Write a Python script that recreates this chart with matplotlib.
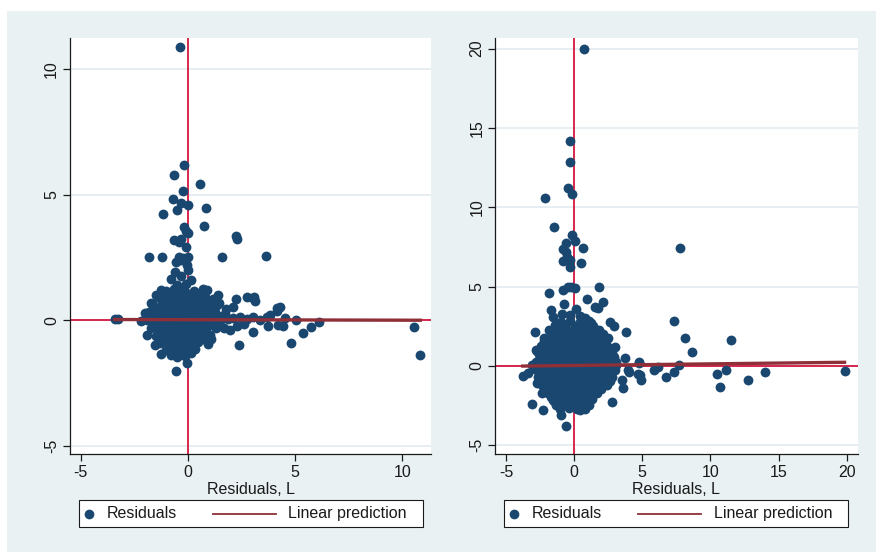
import matplotlib.pyplot as plt
from matplotlib.patches import Rectangle
from matplotlib.lines import Line2D

plt.rcParams['font.family'] = ['Liberation Sans', 'DejaVu Sans']
plt.rcParams['axes.unicode_minus'] = False

# residual pairs (x, y), left graph: sparse points around the cloud
left_outer = [
    (-0.37, 10.88), (-0.17, 6.2), (-0.65, 5.8), (0.56, 5.43), (-0.22, 5.13),
    (-0.69, 4.83), (-0.33, 4.66), (-0.01, 4.57), (0.83, 4.47), (-0.5, 4.37),
    (-1.14, 4.22), (-0.17, 3.72), (0.76, 3.77), (-0.09, 3.56), (-0.01, 3.48),
    (2.27, 3.35), (2.3, 3.24), (-0.65, 3.21), (-0.33, 3.24), (-0.4, 3.1),
    (-0.09, 2.92), (-1.81, 2.5), (-1.2, 2.5), (1.59, 2.5), (3.64, 2.54),
    (-0.42, 2.5), (-0.22, 2.46), (0.0, 2.52), (-0.3, 2.38), (-0.53, 2.32),
    (0.01, 1.99), (-0.61, 1.92), (-0.76, 1.66), (0.17, 1.62), (-0.05, 2.2),
    (-0.3, 1.75), (-0.1, 1.45), (-0.5, 1.42), (-1.23, 1.22), (0.71, 1.26),
    (1.42, 1.0), (2.27, 0.86), (2.74, 0.93), (3.08, 0.93), (3.02, 0.9),
    (3.13, 0.77), (2.12, 0.53), (1.8, 0.45), (2.43, 0.13), (2.1, 0.1),
    (2.75, 0.05), (3.05, 0.13), (3.36, 0.0), (3.68, 0.13), (3.83, 0.2),
    (4.14, 0.36), (4.14, 0.47), (4.3, 0.53), (4.53, 0.07), (5.05, 0.0),
    (3.75, -0.24), (4.22, -0.2), (4.45, -0.24), (2.6, -0.15), (2.3, -0.25),
    (3.02, -0.47), (1.96, -0.4), (2.4, -0.97), (0.95, -0.93), (0.56, -0.73),
    (6.14, -0.09), (5.73, -0.27), (5.39, -0.53), (4.81, -0.9), (10.57, -0.27),
    (10.84, -1.38), (-3.41, 0.03), (-3.26, 0.03), (-2.16, -0.03), (-1.9, -0.6),
    (-1.54, -1.0), (-1.23, -1.33), (-0.76, -1.39), (-0.03, -1.69), (-0.53, -2.03),
    (1.6, 0.15), (1.7, -0.3), (1.45, 0.7), (1.1, -0.75), (-2.0, 0.3),
    (-1.7, 0.7), (-1.5, 1.0),
]

# left graph: dense cloud near the origin
left_core = [
    (-1.02, 1.18), (-0.62, 1.25), (-0.18, 1.21), (0.28, 1.15), (0.88, 1.19),
    (-1.38, 0.92), (-1.02, 0.88), (-0.71, 0.95), (-0.33, 0.86), (0.03, 0.93),
    (0.42, 0.88), (0.79, 0.91), (1.18, 0.84),
    (-1.62, 0.62), (-1.21, 0.57), (-0.88, 0.64), (-0.51, 0.58), (-0.14, 0.63),
    (0.22, 0.55), (0.57, 0.61), (0.98, 0.57), (1.38, 0.62),
    (-1.79, 0.31), (-1.41, 0.27), (-1.04, 0.33), (-0.69, 0.26), (-0.31, 0.32),
    (0.06, 0.28), (0.44, 0.33), (0.86, 0.27), (1.29, 0.31), (1.72, 0.24),
    (-1.91, 0.02), (-1.52, -0.04), (-1.12, 0.03), (-0.74, -0.02), (-0.38, 0.04),
    (-0.04, -0.03), (0.31, 0.02), (0.69, -0.04), (1.08, 0.03), (1.48, -0.02),
    (1.88, 0.04),
    (-1.72, -0.31), (-1.33, -0.27), (-0.96, -0.33), (-0.58, -0.28), (-0.23, -0.32),
    (0.12, -0.26), (0.51, -0.31), (0.91, -0.29), (1.32, -0.33),
    (-1.49, -0.61), (-1.14, -0.57), (-0.79, -0.63), (-0.43, -0.58), (-0.09, -0.62),
    (0.26, -0.56), (0.62, -0.61), (1.02, -0.59),
    (-1.28, -0.91), (-0.93, -0.87), (-0.58, -0.93), (-0.24, -0.88), (0.11, -0.92),
    (0.47, -0.86),
    (-1.01, -1.18), (-0.62, -1.22), (-0.28, -1.17), (0.04, -1.21), (0.36, -1.14),
    (-0.49, -1.45), (-0.12, -1.41),
    (-0.82, 1.05), (-0.41, 1.07), (0.05, 1.03), (0.52, 1.06),
    (-1.18, 0.75), (-0.86, 0.77), (-0.52, 0.74), (-0.16, 0.76), (0.22, 0.73),
    (0.6, 0.77), (1.0, 0.74),
    (-1.41, 0.45), (-1.05, 0.47), (-0.69, 0.44), (-0.33, 0.46), (0.04, 0.43),
    (0.4, 0.47), (0.78, 0.44), (1.15, 0.46),
    (-1.6, 0.15), (-1.25, 0.17), (-0.9, 0.14), (-0.55, 0.16), (-0.2, 0.13),
    (0.15, 0.17), (0.5, 0.14), (0.9, 0.16), (1.5, 0.13),
    (-1.55, -0.15), (-1.15, -0.13), (-0.78, -0.16), (-0.42, -0.14), (-0.07, -0.17),
    (0.3, -0.13), (0.7, -0.16), (1.12, -0.14),
    (-1.32, -0.45), (-0.97, -0.43), (-0.62, -0.46), (-0.26, -0.44), (0.08, -0.47),
    (0.43, -0.43), (0.81, -0.46),
    (-1.1, -0.75), (-0.75, -0.73), (-0.41, -0.76), (-0.06, -0.74), (0.29, -0.77),
    (0.7, -0.73),
    (-0.82, -1.05), (-0.45, -1.03), (-0.1, -1.06), (0.2, -1.04),
    (-0.8, -1.3), (-0.3, -1.32), (0.15, -1.29),
]

# right graph: sparse points
right_outer = [
    (0.73, 20.0), (-0.34, 14.17), (-0.34, 12.87), (-0.46, 11.23), (-0.17, 10.82),
    (-2.16, 10.57), (-1.46, 8.78), (-0.17, 8.25), (0.07, 7.9), (-0.61, 7.73),
    (-0.85, 7.37), (0.66, 7.43), (7.79, 7.42), (-0.61, 7.16), (-0.49, 6.89),
    (-0.85, 6.64), (-0.29, 6.68), (0.51, 6.47), (-0.31, 6.22), (-0.44, 5.0),
    (-0.8, 4.8), (0.05, 4.9), (-0.2, 4.95), (1.83, 4.96), (-1.85, 4.58),
    (0.97, 4.2), (2.14, 4.05), (-0.71, 3.89), (1.52, 3.74), (1.77, 3.64),
    (-1.7, 3.53), (0.12, 3.57), (-1.52, 3.1), (-0.9, 3.26), (-0.3, 3.2),
    (0.4, 3.15), (0.78, 3.0), (1.22, 2.69), (2.6, 2.75), (2.9, 2.54),
    (-2.87, 2.16), (3.77, 2.12), (-2.24, 1.58), (-2.72, 0.96), (-2.83, 0.99),
    (3.0, 1.2), (3.7, 0.52), (4.74, 0.27), (4.75, 0.2), (3.1, 0.04),
    (-3.1, 0.04), (3.96, -0.25), (4.0, -0.36), (4.66, -0.52), (4.8, -0.57),
    (4.93, -0.88), (3.52, -0.86), (3.62, -1.38), (-3.35, -0.46), (-3.77, -0.63),
    (-2.72, -1.1), (-2.36, -1.73), (-3.1, -2.42), (-2.3, -2.78), (-1.52, -2.15),
    (-0.97, -3.09), (-0.63, -3.79), (0.4, -2.78), (1.3, -2.1), (2.81, -2.29),
    (5.89, -0.28), (6.18, -0.05), (6.74, -0.72), (7.3, -0.36), (7.67, 0.04),
    (7.3, 2.83), (8.15, 1.78), (8.64, 0.9), (11.53, 1.64), (10.45, -0.52),
    (11.13, -0.23), (10.7, -1.32), (12.72, -0.9), (13.97, -0.37), (19.84, -0.3),
]

# right graph: dense cloud
right_core = [
    (-0.98, 2.78), (-0.31, 2.84), (0.42, 2.76), (1.08, 2.82),
    (-1.82, 2.28), (-1.18, 2.33), (-0.61, 2.27), (0.02, 2.32), (0.63, 2.26),
    (1.22, 2.31), (1.79, 2.25),
    (-2.21, 1.78), (-1.62, 1.83), (-0.98, 1.76), (-0.41, 1.82), (0.19, 1.77),
    (0.82, 1.83), (1.41, 1.78), (1.98, 1.81), (2.52, 1.74),
    (-2.42, 1.27), (-1.79, 1.32), (-1.21, 1.26), (-0.62, 1.31), (0.01, 1.28),
    (0.59, 1.33), (1.22, 1.27), (1.81, 1.31), (2.38, 1.26),
    (-2.61, 0.78), (-2.02, 0.82), (-1.38, 0.77), (-0.81, 0.83), (-0.19, 0.79),
    (0.42, 0.82), (0.98, 0.76), (1.62, 0.81), (2.21, 0.78), (2.79, 0.83),
    (-2.82, 0.28), (-2.19, 0.32), (-1.61, 0.27), (-0.98, 0.31), (-0.42, 0.29),
    (0.21, 0.33), (0.79, 0.27), (1.41, 0.31), (1.98, 0.28), (2.61, 0.32),
    (3.08, 0.26),
    (-2.88, -0.21), (-2.31, -0.17), (-1.69, -0.22), (-1.08, -0.18), (-0.52, -0.23),
    (0.11, -0.19), (0.68, -0.22), (1.31, -0.17), (1.92, -0.21), (2.49, -0.18),
    (3.02, -0.23),
    (-2.62, -0.69), (-1.98, -0.73), (-1.41, -0.68), (-0.79, -0.72), (-0.21, -0.67),
    (0.39, -0.71), (1.02, -0.68), (1.59, -0.73), (2.18, -0.69), (2.81, -0.72),
    (-2.38, -1.19), (-1.82, -1.23), (-1.19, -1.18), (-0.61, -1.22), (0.02, -1.17),
    (0.58, -1.21), (1.21, -1.18), (1.79, -1.22), (2.42, -1.19),
    (-1.92, -1.68), (-1.31, -1.72), (-0.69, -1.67), (-0.12, -1.71), (0.49, -1.69),
    (1.12, -1.73), (1.71, -1.68),
    (-1.51, -2.19), (-0.88, -2.23), (-0.29, -2.18), (0.31, -2.22), (0.92, -2.17),
    (-1.02, -2.71), (-0.38, -2.68), (0.21, -2.73), (0.79, -2.69),
    (-1.4, 2.55), (-0.65, 2.57), (0.05, 2.53), (0.75, 2.56), (1.4, 2.54),
    (-1.5, 2.05), (-0.9, 2.07), (-0.3, 2.03), (0.32, 2.06), (0.92, 2.04),
    (1.5, 2.07), (2.1, 2.03),
    (-1.9, 1.55), (-1.3, 1.57), (-0.7, 1.53), (-0.1, 1.56), (0.5, 1.54),
    (1.1, 1.57), (1.7, 1.53), (2.25, 1.56),
    (-2.3, 1.05), (-1.7, 1.07), (-1.1, 1.03), (-0.5, 1.06), (0.12, 1.04),
    (0.7, 1.07), (1.3, 1.03), (1.9, 1.06), (2.5, 1.04),
    (-2.5, 0.55), (-1.9, 0.57), (-1.3, 0.53), (-0.7, 0.56), (-0.1, 0.54),
    (0.5, 0.57), (1.1, 0.53), (1.7, 0.56), (2.3, 0.54), (2.9, 0.57),
    (-2.5, 0.05), (-1.9, 0.07), (-1.3, 0.03), (-0.75, 0.06), (-0.15, 0.04),
    (0.5, 0.07), (1.1, 0.03), (1.7, 0.06), (2.3, 0.04), (2.8, 0.07),
    (-2.6, -0.45), (-2.0, -0.43), (-1.4, -0.47), (-0.8, -0.44), (-0.2, -0.46),
    (0.4, -0.43), (1.0, -0.47), (1.6, -0.44), (2.2, -0.46), (2.7, -0.43),
    (-2.3, -0.95), (-1.7, -0.93), (-1.1, -0.97), (-0.5, -0.94), (0.3, -0.96),
    (0.9, -0.93), (1.5, -0.97), (2.1, -0.94), (2.6, -0.96),
    (-2.1, -1.45), (-1.5, -1.43), (-0.9, -1.47), (-0.3, -1.44), (0.2, -1.46),
    (0.8, -1.43), (1.4, -1.47), (2.0, -1.44),
    (-1.7, -1.95), (-1.2, -1.93), (-0.6, -1.97), (0.0, -1.94), (0.6, -1.96),
    (1.2, -1.93),
    (-1.3, -2.45), (-0.7, -2.43), (-0.1, -2.47), (0.5, -2.44), (1.1, -2.46),
]

# fitted lines: intercept, slope
left_fit = (0.02, -0.002)
right_fit = (0.03, 0.0101)

left_ticks = [-5, 0, 5, 10]
right_ticks = [-5, 0, 5, 10, 15, 20]
x_title = 'Residuals, L'
legend_labels = ['Residuals', 'Linear prediction']

W, H = 876, 552
navy = '#1a476f'
maroon = '#8f2f38'
red = '#d4163f'
bg = '#e9f1f3'
ink = '#1a1a1a'

fig = plt.figure(figsize=(W / 100, H / 100), dpi=100)
fig.patch.set_facecolor('white')
fig.add_artist(Rectangle((7 / W, 0), 1, (H - 11) / H, transform=fig.transFigure,
                         facecolor=bg, edgecolor='none', zorder=-1))

panels = [
    (left_outer + left_core, left_fit, left_ticks, left_ticks,
     (-5.49, 11.34), (-5.33, 11.24), 70, 361),
    (right_outer + right_core, right_fit, right_ticks, right_ticks,
     (-5.77, 20.79), (-5.55, 20.67), 495.5, 362),
]

for pts, fit, xt, yt, xlim, ylim, x0, w in panels:
    ax = fig.add_axes([x0 / W, (H - 454) / H, w / W, 416 / H])
    xs = [p[0] for p in pts]
    ys = [p[1] for p in pts]

    ax.axhline(0, color=red, lw=1.3, zorder=1)
    ax.axvline(0, color=red, lw=1.3, zorder=1)
    ax.scatter(xs, ys, s=50, color=navy, linewidths=0, zorder=2)
    fx = [min(xs), max(xs)]
    fy = [fit[0] + fit[1] * v for v in fx]
    ax.plot(fx, fy, color=maroon, lw=2.4, zorder=3)

    ax.set_xlim(xlim)
    ax.set_ylim(ylim)
    ax.set_xticks(xt)
    ax.set_yticks(yt)
    ax.yaxis.grid(True, color='#e2ebef', lw=1.2)
    ax.set_axisbelow(True)
    for s in ['top', 'right']:
        ax.spines[s].set_visible(False)
    for s in ['left', 'bottom']:
        ax.spines[s].set_color(ink)
        ax.spines[s].set_linewidth(0.9)
    ax.tick_params(length=5, width=0.9, color=ink, labelcolor=ink, labelsize=11.5, pad=3)
    plt.setp(ax.get_yticklabels(), rotation=90, va='center')
    ax.set_xlabel(x_title, fontsize=11.5, color=ink, labelpad=1)

    # legend box under each graph
    lx = x0 + 0.5
    yc = (H - 513.5) / H
    fig.add_artist(Rectangle(((lx + 8) / W, (H - 527) / H), 344 / W, 27 / H,
                             transform=fig.transFigure, facecolor='white',
                             edgecolor=ink, lw=0.8, zorder=4))
    fig.add_artist(Line2D([(lx + 18) / W], [yc], marker='o', markersize=7,
                          color=navy, markeredgewidth=0, linestyle='none',
                          transform=fig.transFigure, zorder=5))
    fig.text((lx + 36) / W, yc, legend_labels[0], fontsize=11.5, color=ink,
             va='center', zorder=5)
    fig.add_artist(Line2D([(lx + 142) / W, (lx + 205) / W], [yc, yc], color=maroon,
                          lw=1.3, transform=fig.transFigure, zorder=5))
    fig.text((lx + 218) / W, yc, legend_labels[1], fontsize=11.5, color=ink,
             va='center', zorder=5)

fig.savefig('out.png', dpi=100)
